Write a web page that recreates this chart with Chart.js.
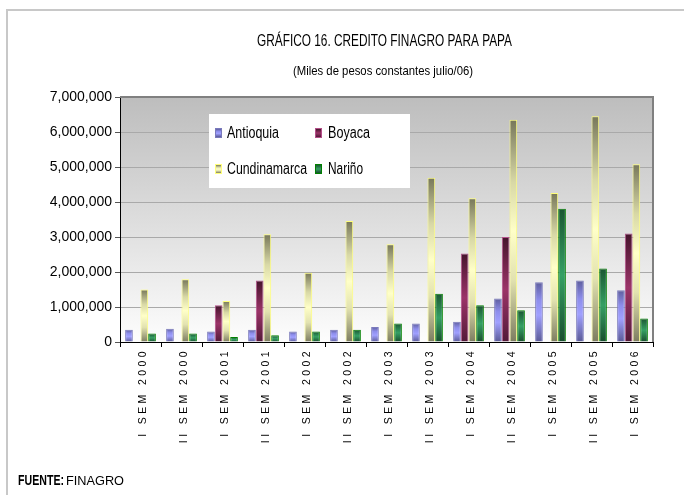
<!DOCTYPE html>
<html><head><meta charset="utf-8">
<script src="https://cdn.jsdelivr.net/npm/chart.js@4.4.1/dist/chart.umd.min.js"></script>
<style>html,body{margin:0;padding:0;background:#fff;}canvas{display:block}</style>
</head><body>
<canvas id="c" width="684" height="495"></canvas>
<script>
// ---- data ----
const categories = ["I SEM 2000","II SEM 2000","I SEM 2001","II SEM 2001","I SEM 2002","II SEM 2002","I SEM 2003","II SEM 2003","I SEM 2004","II SEM 2004","I SEM 2005","II SEM 2005","I SEM 2006"];
const antioquia    = [350000, 380000, 300000, 350000, 300000, 350000, 430000, 530000, 580000, 1240000, 1710000, 1760000, 1480000];
const boyaca       = [null, null, 1050000, 1760000, null, null, null, null, 2530000, 3000000, null, null, 3100000];
const cundinamarca = [1500000, 1790000, 1170000, 3080000, 1980000, 3460000, 2790000, 4690000, 4110000, 6350000, 4260000, 6450000, 5080000];
const narino       = [240000, 240000, 140000, 190000, 300000, 350000, 530000, 1380000, 1050000, 905000, 3810000, 2100000, 670000];
const seriesNames  = ["Antioquia", "Boyaca", "Cundinamarca", "Nariño"];
const yTickValues  = [0, 1000000, 2000000, 3000000, 4000000, 5000000, 6000000, 7000000];
const titleText    = "GRÁFICO 16. CREDITO FINAGRO PARA PAPA";
const subtitleText = "(Miles de pesos constantes julio/06)";
const sourceLabel  = "FUENTE:";
const sourceText   = "FINAGRO";

// ---- styles ----
const SANS = "'Liberation Sans', Arial, sans-serif";
const styles = [
  {stops: [[0, '#5e5e9e'], [0.3, '#8e8eec'], [0.55, '#a0a0ff'], [1, '#5a5a96']], mid: '#9c9cff', border: '#7a7abc'},
  {stops: [[0, '#45142c'], [0.5, '#9b3468'], [1, '#521a38']], mid: '#9b3468', border: '#b4508a'},
  {stops: [[0, '#77775a'], [0.28, '#d8d8a6'], [0.5, '#ffffc8'], [0.72, '#e2e2b0'], [1, '#7c7c60']], mid: '#ffffc6', border: '#ffff7a'},
  {stops: [[0, '#1a5632'], [0.5, '#35a064'], [1, '#184d2d']], mid: '#35a064', border: '#008000'}
];

function makeGrad(ctx, stops, y0, y1) {
  const g = ctx.createLinearGradient(0, y0, 0, y1);
  stops.forEach(s => g.addColorStop(s[0], s[1]));
  return g;
}

function barFill(st) {
  return function (c) {
    const chart = c.chart;
    if (!chart.chartArea || c.type !== 'data' || !c.parsed || !c.parsed.y) return st.mid;
    const ys = chart.scales.y;
    return makeGrad(chart.ctx, st.stops, ys.getPixelForValue(c.parsed.y), ys.getPixelForValue(0));
  };
}

function drawFit(ctx, text, x, y, font, w, align, color) {
  ctx.save();
  ctx.font = font;
  const m = ctx.measureText(text).width;
  ctx.translate(x, y);
  ctx.scale(w / m, 1);
  ctx.textAlign = align;
  ctx.textBaseline = 'alphabetic';
  ctx.fillStyle = color || '#000';
  ctx.fillText(text, 0, 0);
  ctx.restore();
}

const decorPlugin = {
  id: 'decor',
  beforeDraw(chart) {
    const ctx = chart.ctx, a = chart.chartArea;
    ctx.save();
    ctx.fillStyle = '#fff';
    ctx.fillRect(0, 0, chart.width, chart.height);
    ctx.strokeStyle = '#c8c8c8';
    ctx.lineWidth = 2;
    ctx.beginPath();
    ctx.moveTo(7, chart.height + 5); ctx.lineTo(7, 10); ctx.lineTo(chart.width + 5, 10);
    ctx.stroke();
    const g = ctx.createLinearGradient(0, a.top, 0, a.bottom);
    g.addColorStop(0, '#bdbdbd');
    g.addColorStop(1, '#fdfdfd');
    ctx.fillStyle = g;
    ctx.fillRect(a.left, a.top, a.right - a.left, a.bottom - a.top);
    ctx.restore();
    drawFit(ctx, titleText, 384.5, 46, 'normal 16.5px ' + SANS, 255, 'center', '#000');
    drawFit(ctx, subtitleText, 383, 75, 'normal 13.5px ' + SANS, 180, 'center', '#000');
    drawFit(ctx, sourceLabel, 18, 485, 'bold 14px ' + SANS, 46, 'left', '#000');
    drawFit(ctx, sourceText, 66, 485, 'normal 13.5px ' + SANS, 58, 'left', '#000');
  },
  beforeDatasetsDraw(chart) {
    const ctx = chart.ctx, a = chart.chartArea;
    ctx.save();
    ctx.strokeStyle = '#808080';
    ctx.lineWidth = 2;
    ctx.beginPath();
    ctx.moveTo(a.left, a.top); ctx.lineTo(a.right, a.top); ctx.lineTo(a.right, a.bottom);
    ctx.stroke();
    ctx.restore();
  },
  afterDatasetsDraw(chart) {
    const ctx = chart.ctx;
    ctx.save();
    ctx.fillStyle = '#fff';
    ctx.fillRect(209, 114, 201, 74);
    const widths = [52, 42, 80, 35];
    chart.data.datasets.forEach((ds, i) => {
      const col = i % 2, row = Math.floor(i / 2);
      const mx = 215 + col * 100, my = 128 + row * 36;
      const st = styles[i];
      ctx.fillStyle = st.border;
      ctx.fillRect(mx, my, 7, 10);
      ctx.fillStyle = makeGrad(ctx, st.stops, my + 1, my + 9);
      ctx.fillRect(mx + 1, my + 1, 5, 8);
      drawFit(ctx, ds.label, 227 + col * 101, 138 + row * 36, 'normal 16px ' + SANS, widths[i], 'left', '#000');
    });
    ctx.restore();
  },
  afterLayout(chart) {
    const s = chart.scales.x;
    if (s && !s.__ls) {
      const orig = s.drawLabels;
      s.drawLabels = function (area) {
        this.ctx.save();
        this.ctx.letterSpacing = '3.4px';
        orig.call(this, area);
        this.ctx.restore();
      };
      s.__ls = true;
    }
  }
};

const seriesData = [antioquia, boyaca, cundinamarca, narino];

new Chart(document.getElementById('c'), {
  type: 'bar',
  data: {
    labels: categories,
    datasets: seriesNames.map((name, i) => ({
      label: name,
      data: seriesData[i],
      backgroundColor: barFill(styles[i]),
      borderColor: styles[i].border,
      borderWidth: 1,
      borderSkipped: 'start',
      categoryPercentage: 0.75,
      barPercentage: 1.0
    }))
  },
  options: {
    responsive: false,
    animation: false,
    devicePixelRatio: 1,
    layout: {padding: {left: 0, right: 31, top: 97, bottom: 0}},
    plugins: {legend: {display: false}, title: {display: false}, tooltip: {enabled: false}},
    scales: {
      x: {
        afterFit(scale) { scale.height = 153; },
        grid: {drawOnChartArea: false, drawTicks: true, tickLength: 5, tickColor: '#000', offset: true},
        border: {display: true, color: '#000', width: 1},
        ticks: {
          autoSkip: false, minRotation: 90, maxRotation: 90, padding: 1, labelOffset: 3,
          color: '#000', font: {family: SANS, size: 10.5}
        }
      },
      y: {
        min: 0, max: 7000000,
        afterFit(scale) { scale.width = 120; },
        afterBuildTicks(scale) { scale.ticks = yTickValues.map(v => ({value: v})); },
        grid: {
          color: (c) => c.tick && c.tick.value === 7000000 ? '#808080' : '#a9a9a9',
          lineWidth: 1, tickLength: 5, tickColor: '#555', drawTicks: true
        },
        border: {display: true, color: '#000', width: 1},
        ticks: {
          padding: 3, color: '#000', font: {family: SANS, size: 14},
          callback: (v) => Number(v).toLocaleString('en-US')
        }
      }
    }
  },
  plugins: [decorPlugin]
});
</script>
</body></html>
